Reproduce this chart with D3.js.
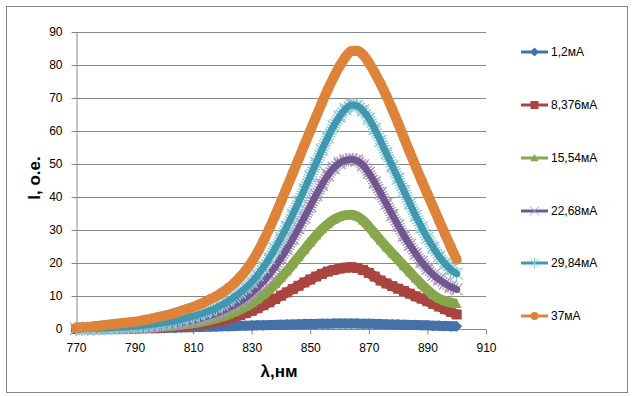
<!DOCTYPE html>
<html lang="ru">
<head>
  <meta charset="UTF-8">
  <title>Спектры излучения</title>
  <script src="https://d3js.org/d3.v7.min.js"></script>
  <style>
    body { margin: 0; background: #fff; }
    svg { display: block; font-family: "Liberation Sans", Arial, sans-serif; }
    .axis path, .axis line { stroke: #868686; }
    .axis text { font-size: 12px; fill: #000; }
    .grid line { stroke: #868686; stroke-width: 1; }
    .legend text { font-size: 12px; fill: #000; }
    .title { font-size: 17px; font-weight: bold; fill: #000; }
  </style>
</head>
<body>
  <svg width="632" height="396"></svg>

  <script>
    // wavelength, nm
    const wavelength = [
      770, 772, 774, 776, 778, 780, 782, 784, 786, 788,
      790, 792, 794, 796, 798, 800, 802, 804, 806, 808,
      810, 812, 814, 816, 818, 820, 822, 824, 826, 828,
      830, 832, 834, 836, 838, 840, 842, 844, 846, 848,
      850, 852, 854, 856, 858, 860, 862, 864, 866, 868,
      870, 872, 874, 876, 878, 880, 882, 884, 886, 888,
      890, 892, 894, 896, 898, 900
    ];

    // intensity, a.u., one list per drive current
    const i1_2 = [
      0.2, 0.2, 0.2, 0.2, 0.2, 0.2, 0.2, 0.2, 0.2, 0.2,
      0.2, 0.2, 0.2, 0.2, 0.25, 0.3, 0.35, 0.4, 0.45, 0.5,
      0.55, 0.6, 0.65, 0.7, 0.75, 0.8, 0.85, 0.9, 0.95, 1.0,
      1.05, 1.1, 1.15, 1.2, 1.25, 1.3, 1.35, 1.4, 1.45, 1.5,
      1.5, 1.55, 1.6, 1.6, 1.65, 1.65, 1.65, 1.65, 1.65, 1.6,
      1.6, 1.55, 1.5, 1.45, 1.4, 1.35, 1.3, 1.25, 1.2, 1.15,
      1.1, 1.0, 0.95, 0.9, 0.85, 0.8
    ];
    const i8_376 = [
      0.0, 0.0, 0.0, 0.05, 0.05, 0.05, 0.1, 0.1, 0.15, 0.15,
      0.2, 0.25, 0.3, 0.35, 0.4, 0.5, 0.6, 0.7, 0.85, 1.0,
      1.2, 1.4, 1.65, 1.95, 2.3, 2.7, 3.15, 3.65, 4.2, 4.8,
      5.5, 6.3, 7.2, 8.1, 9.1, 10.1, 11.1, 12.1, 13.1, 14.1,
      15.0, 15.9, 16.7, 17.4, 17.9, 18.3, 18.6, 18.7, 18.5, 17.9,
      17.0, 15.9, 14.7, 13.8, 13.0, 12.2, 11.5, 10.7, 9.9, 9.2,
      8.4, 7.6, 6.8, 6.0, 5.2, 4.4
    ];
    const i15_54 = [
      0.0, 0.0, 0.05, 0.05, 0.1, 0.1, 0.15, 0.2, 0.25, 0.3,
      0.35, 0.4, 0.5, 0.6, 0.7, 0.8, 0.95, 1.1, 1.3, 1.5,
      1.75, 2.05, 2.4, 2.8, 3.25, 3.8, 4.4, 5.1, 5.9, 6.8,
      7.8, 9.0, 10.4, 11.9, 13.6, 15.5, 17.5, 19.6, 21.8, 24.0,
      26.2, 28.3, 30.2, 31.8, 33.1, 34.0, 34.5, 34.6, 34.1, 32.9,
      31.0, 28.9, 26.8, 24.8, 22.9, 21.0, 19.1, 17.2, 15.3, 13.5,
      11.8, 10.3, 9.2, 8.5, 8.0, 7.6
    ];
    const i22_68 = [
      0.05, 0.05, 0.1, 0.1, 0.15, 0.2, 0.25, 0.3, 0.35, 0.4,
      0.5, 0.6, 0.7, 0.85, 1.0, 1.2, 1.4, 1.65, 1.95, 2.3,
      2.7, 3.15, 3.65, 4.2, 4.85, 5.6, 6.4, 7.3, 8.4, 9.6,
      11.0, 12.6, 14.4, 16.5, 18.9, 21.5, 24.3, 27.3, 30.5, 33.8,
      37.2, 40.6, 43.8, 46.6, 48.8, 50.3, 51.1, 51.4, 51.0, 49.6,
      47.3, 44.4, 41.2, 37.9, 34.6, 31.4, 28.3, 25.5, 22.8, 20.3,
      18.2, 16.4, 15.0, 13.8, 12.8, 12.0
    ];
    const i29_84 = [
      0.1, 0.1, 0.15, 0.2, 0.25, 0.3, 0.4, 0.5, 0.6, 0.7,
      0.85, 1.0, 1.2, 1.4, 1.65, 1.9, 2.2, 2.55, 2.95, 3.4,
      3.9, 4.4, 5.0, 5.7, 6.5, 7.4, 8.5, 9.7, 11.0, 12.5,
      14.2, 16.3, 18.7, 21.4, 24.4, 27.6, 31.0, 34.6, 38.4, 42.3,
      46.3, 50.3, 54.3, 58.1, 61.5, 64.4, 66.6, 67.9, 67.6, 66.2,
      63.8, 60.6, 57.0, 53.2, 49.4, 45.6, 41.8, 38.0, 34.3, 30.8,
      27.6, 24.7, 22.0, 19.8, 18.0, 16.7
    ];
    const i37 = [
      0.4, 0.5, 0.6, 0.8, 1.0, 1.2, 1.4, 1.6, 1.8, 2.0,
      2.2, 2.5, 2.8, 3.2, 3.6, 4.0, 4.4, 4.9, 5.5, 6.1,
      6.7, 7.4, 8.2, 9.1, 10.0, 11.1, 12.4, 13.9, 15.7, 17.8,
      20.3, 23.3, 26.7, 30.4, 34.4, 38.6, 42.9, 47.2, 51.5, 55.8,
      60.1, 64.4, 68.6, 72.6, 76.3, 79.6, 82.4, 84.2, 84.3, 83.1,
      80.7, 77.7, 74.3, 70.6, 66.6, 62.3, 57.9, 53.5, 49.2, 45.0,
      40.9, 36.9, 32.8, 28.8, 24.8, 21.0
    ];

    const seriesNames = ['1,2мА', '8,376мА', '15,54мА', '22,68мА', '29,84мА', '37мА'];
    const xTicks = [770, 790, 810, 830, 850, 870, 890, 910];
    const yTicks = [0, 10, 20, 30, 40, 50, 60, 70, 80, 90];

    const series = [
      { name: seriesNames[0], values: i1_2,   color: '#4472A8', marker: 'diamond' },
      { name: seriesNames[1], values: i8_376, color: '#A94441', marker: 'square' },
      { name: seriesNames[2], values: i15_54, color: '#88A64B', marker: 'triangle' },
      { name: seriesNames[3], values: i22_68, color: '#71578F', light: '#A898BF', marker: 'x' },
      { name: seriesNames[4], values: i29_84, color: '#4097AE', light: '#8ACADB', marker: 'star' },
      { name: seriesNames[5], values: i37,    color: '#DD833A', marker: 'circle' }
    ];

    const svg = d3.select('svg');

    // chart frame
    svg.append('rect')
      .attr('x', 6.5).attr('y', 6.5)
      .attr('width', 621).attr('height', 386)
      .attr('fill', '#fff')
      .attr('stroke', '#868686');

    const x = d3.scaleLinear().domain([770, 910]).range([76, 486]);
    const y = d3.scaleLinear().domain([0, 90]).range([329, 32]);

    // horizontal gridlines
    svg.append('g')
      .attr('class', 'grid')
      .selectAll('line')
      .data(yTicks.filter(d => d > 0))
      .enter()
      .append('line')
      .attr('x1', x(770)).attr('x2', x(910))
      .attr('y1', d => Math.round(y(d)) + 0.5)
      .attr('y2', d => Math.round(y(d)) + 0.5);

    svg.append('g')
      .attr('class', 'axis')
      .attr('transform', `translate(0, ${Math.round(y(0)) + 0.5})`)
      .call(d3.axisBottom(x).tickValues(xTicks).tickSize(5).tickPadding(9).tickSizeOuter(0))
      .call(g => g.select('.domain').attr('d', `M${x(770)},0H${x(910)}`));

    svg.append('g')
      .attr('class', 'axis')
      .attr('transform', `translate(${Math.round(x(770)) + 0.5}, 0)`)
      .call(d3.axisLeft(y).tickValues(yTicks).tickSize(5).tickPadding(9).tickSizeOuter(0));

    // marker shapes
    function markerPath(type, s) {
      switch (type) {
        case 'diamond': return `M0,${-s}L${s},0L0,${s}L${-s},0Z`;
        case 'square': return `M${-s},${-s}H${s}V${s}H${-s}Z`;
        case 'triangle': return `M0,${-s}L${s},${s * 0.8}L${-s},${s * 0.8}Z`;
        case 'x': return `M${-s},${-s}L${s},${s}M${-s},${s}L${s},${-s}`;
        case 'star': return `M${-s},${-s}L${s},${s}M${-s},${s}L${s},${-s}M0,${-s * 1.2}L0,${s * 1.2}`;
        default: return d3.arc()({ innerRadius: 0, outerRadius: s, startAngle: 0, endAngle: 2 * Math.PI });
      }
    }

    const line = d3.line()
      .x((d, i) => x(wavelength[i]))
      .y(d => y(d))
      .curve(d3.curveMonotoneX);

    const plot = svg.append('g');

    series.forEach(s => {
      const g = plot.append('g');
      const open = s.marker === 'x' || s.marker === 'star';
      if (open) {
        // hatched halo made by the dense open markers
        g.append('path')
          .attr('d', line(s.values))
          .attr('fill', 'none')
          .attr('stroke', s.light)
          .attr('stroke-width', 13)
          .attr('stroke-dasharray', '1.3 1.3');
        g.selectAll('path.m')
          .data(s.values)
          .enter()
          .append('path')
          .attr('class', 'm')
          .attr('transform', (d, i) => `translate(${x(wavelength[i])},${y(d)})`)
          .attr('d', markerPath(s.marker, 6))
          .attr('fill', 'none')
          .attr('stroke', s.light)
          .attr('stroke-width', 1.2);
        g.append('path')
          .attr('d', line(s.values))
          .attr('fill', 'none')
          .attr('stroke', s.color)
          .attr('stroke-width', 7)
          .attr('stroke-linecap', 'round');
      } else {
        g.append('path')
          .attr('d', line(s.values))
          .attr('fill', 'none')
          .attr('stroke', s.color)
          .attr('stroke-width', 10)
          .attr('stroke-linejoin', 'round');
        g.selectAll('path.m')
          .data(s.values)
          .enter()
          .append('path')
          .attr('class', 'm')
          .attr('transform', (d, i) => `translate(${x(wavelength[i])},${y(d)})`)
          .attr('d', markerPath(s.marker, s.marker === 'diamond' ? 5.5 : 5))
          .attr('fill', s.color);
      }
    });

    // legend
    const legendY = [52, 105, 158, 211, 263, 316];
    const legend = svg.append('g').attr('class', 'legend');
    series.forEach((s, i) => {
      const g = legend.append('g').attr('transform', `translate(0, ${legendY[i]})`);
      g.append('line')
        .attr('x1', 521).attr('x2', 548)
        .attr('stroke', s.color).attr('stroke-width', 3);
      const open = s.marker === 'x' || s.marker === 'star';
      g.append('path')
        .attr('transform', 'translate(534.5, 0)')
        .attr('d', markerPath(s.marker, open ? 4.5 : (s.marker === 'diamond' ? 4.5 : 4)))
        .attr('fill', open ? 'none' : s.color)
        .attr('stroke', open ? s.light : 'none')
        .attr('stroke-width', 1);
      g.append('text')
        .attr('x', 551)
        .attr('dy', '0.35em')
        .text(s.name);
    });

    // axis titles
    svg.append('text')
      .attr('class', 'title')
      .attr('text-anchor', 'middle')
      .attr('transform', 'translate(40, 178) rotate(-90)')
      .text('I, о.е.');

    svg.append('text')
      .attr('class', 'title')
      .attr('text-anchor', 'middle')
      .attr('x', 279)
      .attr('y', 377)
      .text('λ,нм');
  </script>
</body>
</html>
